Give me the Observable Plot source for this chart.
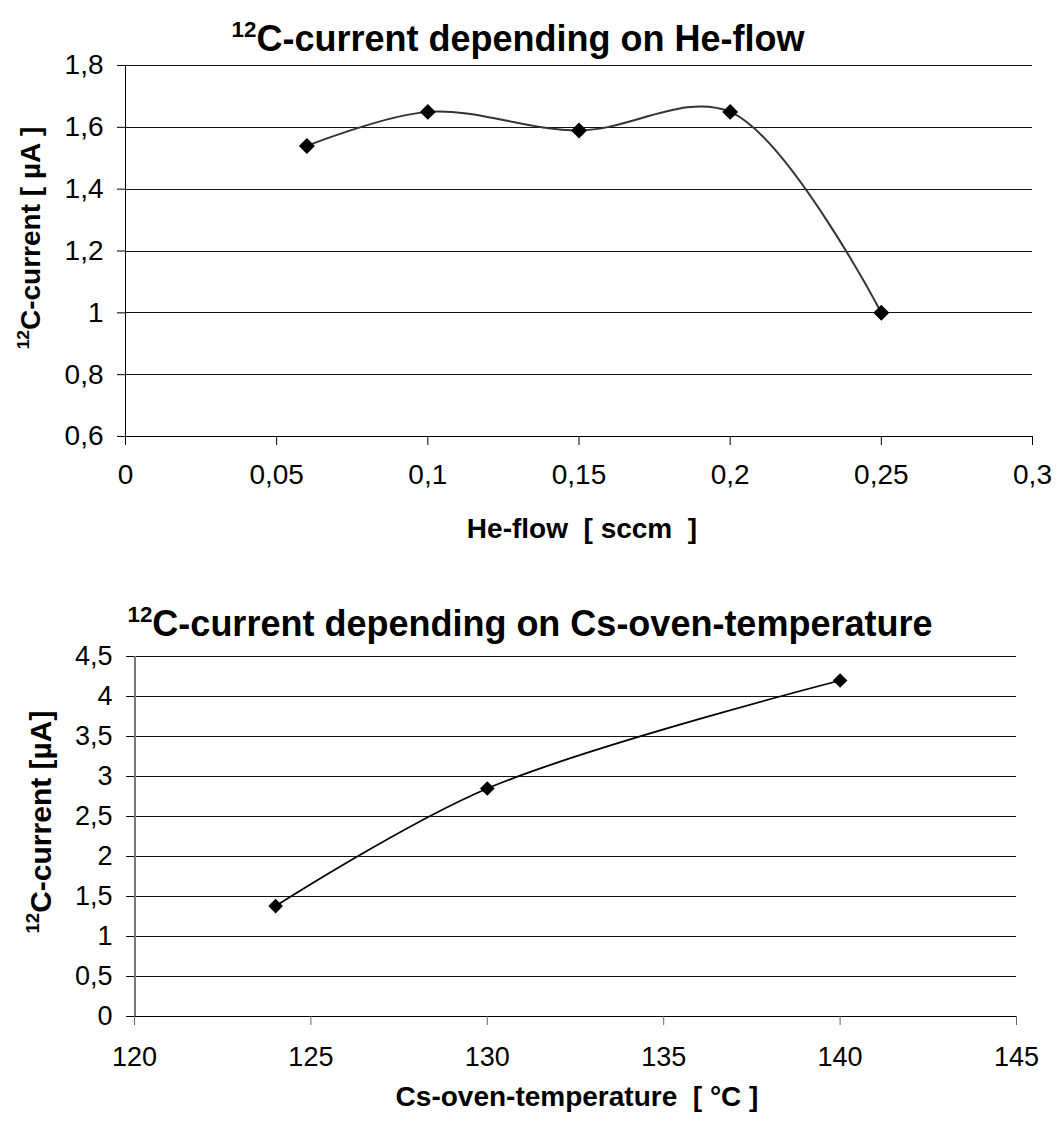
<!DOCTYPE html>
<html>
<head>
<meta charset="utf-8">
<script src="https://cdn.jsdelivr.net/npm/d3@7"></script>
<script src="https://cdn.jsdelivr.net/npm/@observablehq/plot@0.6"></script>
<style>
  html, body { margin: 0; padding: 0; background: #fff; }
  #root { position: relative; width: 1057px; height: 1124px; overflow: hidden; font-family: "Liberation Sans", Arial, sans-serif; color: #000; }
  .abs { position: absolute; white-space: nowrap; line-height: 1; }
  .title { font-weight: bold; font-size: 36px; transform: translateX(-50%); }
  .xlab { font-weight: bold; font-size: 28px; transform: translateX(-50%); }
  .ylab { font-weight: bold; font-size: 28px; transform: translate(-50%, -50%) rotate(-90deg); }
  .ylab2 { font-size: 30px; }
  .sup { font-size: 0.62em; position: relative; top: -0.62em; }
  svg { position: absolute; left: 0; }
  svg line { shape-rendering: crispEdges; }
</style>
</head>
<body>
<div id="root"></div>
<script>
// ---- Chart 1: 12C-current vs He-flow ----
const heFlow = [0.06, 0.10, 0.15, 0.20, 0.25];
const heCurrent = [1.54, 1.65, 1.59, 1.65, 1.00];
const heXTicks = [0, 0.05, 0.1, 0.15, 0.2, 0.25, 0.3];
const heYTicks = [0.6, 0.8, 1, 1.2, 1.4, 1.6, 1.8];

// ---- Chart 2: 12C-current vs Cs-oven temperature ----
const ovenTemp = [124, 130, 140];
const ovenCurrent = [1.38, 2.85, 4.2];
const ovenXTicks = [120, 125, 130, 135, 140, 145];
const ovenYTicks = [0, 0.5, 1, 1.5, 2, 2.5, 3, 3.5, 4, 4.5];

const fmt = d => String(d).replace(".", ",");
const root = document.getElementById("root");

const heData = heFlow.map((x, i) => ({x, y: heCurrent[i]}));
const ovenData = ovenTemp.map((x, i) => ({x, y: ovenCurrent[i]}));

const p1 = Plot.plot({
  width: 1057, height: 560,
  marginLeft: 125, marginRight: 25, marginTop: 65, marginBottom: 124,
  style: {fontFamily: "Liberation Sans, Arial, sans-serif", fontSize: "28px", color: "#000", background: "transparent"},
  x: {domain: [0, 0.3]},
  y: {domain: [0.6, 1.8]},
  marks: [
    Plot.gridY(heYTicks.slice(1), {stroke: "#111", strokeOpacity: 1, strokeWidth: 1}),
    Plot.ruleX([0], {stroke: "#000", strokeWidth: 1}),
    Plot.ruleY([0.6], {stroke: "#000", strokeWidth: 1}),
    Plot.axisY(heYTicks, {tickFormat: fmt, tickSize: 8, tickPadding: 14, label: null, stroke: "#000", fill: "#000", fontSize: 28}),
    Plot.axisX(heXTicks, {tickFormat: fmt, tickSize: 9, tickPadding: 19, label: null, stroke: "#000", fill: "#000", fontSize: 28}),
    Plot.line(heData, {x: "x", y: "y", curve: "catmull-rom", stroke: "#333", strokeWidth: 2}),
    Plot.dot(heData, {x: "x", y: "y", symbol: "diamond2", r: 7.2, fill: "#000", stroke: "none"})
  ]
});
p1.style.top = "0px";
root.appendChild(p1);

const p2 = Plot.plot({
  width: 1057, height: 564,
  marginLeft: 134, marginRight: 41, marginTop: 96, marginBottom: 108,
  style: {fontFamily: "Liberation Sans, Arial, sans-serif", fontSize: "27px", color: "#000", background: "transparent"},
  x: {domain: [120, 145]},
  y: {domain: [0, 4.5]},
  marks: [
    Plot.gridY(ovenYTicks.slice(1), {stroke: "#111", strokeOpacity: 1, strokeWidth: 1}),
    Plot.ruleX([120], {stroke: "#777", strokeWidth: 2}),
    Plot.ruleY([0], {stroke: "#000", strokeWidth: 1}),
    Plot.axisY(ovenYTicks, {tickFormat: fmt, tickSize: 8, tickPadding: 14, label: null, stroke: "#000", fill: "#000", fontSize: 27}),
    Plot.axisX(ovenXTicks, {tickFormat: fmt, tickSize: 9, tickPadding: 21, label: null, stroke: "#666", fill: "#000", fontSize: 27}),
    Plot.line(ovenData, {x: "x", y: "y", curve: "catmull-rom", stroke: "#000", strokeWidth: 1.8}),
    Plot.dot(ovenData, {x: "x", y: "y", symbol: "diamond2", r: 6.6, fill: "#000", stroke: "none"})
  ]
});
p2.style.top = "560px";
root.appendChild(p2);

// ---- Text overlays (titles and axis labels) ----
function addText(cls, html, left, top) {
  const d = document.createElement("div");
  d.className = "abs " + cls;
  d.innerHTML = html;
  d.style.left = left + "px";
  d.style.top = top + "px";
  root.appendChild(d);
  return d;
}
const t1 = "<span class='sup'>12</span>C-current depending on He-flow";
const t2 = "<span class='sup'>12</span>C-current depending on Cs-oven-temperature";
addText("title", t1, 518, 51 - 0.8465 * 36);
addText("title", t2, 530, 636 - 0.8465 * 36);
addText("xlab", "He-flow&nbsp; [ sccm&nbsp; ]", 582, 539 - 0.8465 * 28);
addText("xlab", "Cs-oven-temperature&nbsp; [ °C ]", 577, 1107 - 0.8465 * 28);
addText("ylab", "<span class='sup'>12</span>C-current [ µA ]", 31, 238);
addText("ylab ylab2", "<span class='sup'>12</span>C-current [µA]", 41, 822);
</script>
</body>
</html>
